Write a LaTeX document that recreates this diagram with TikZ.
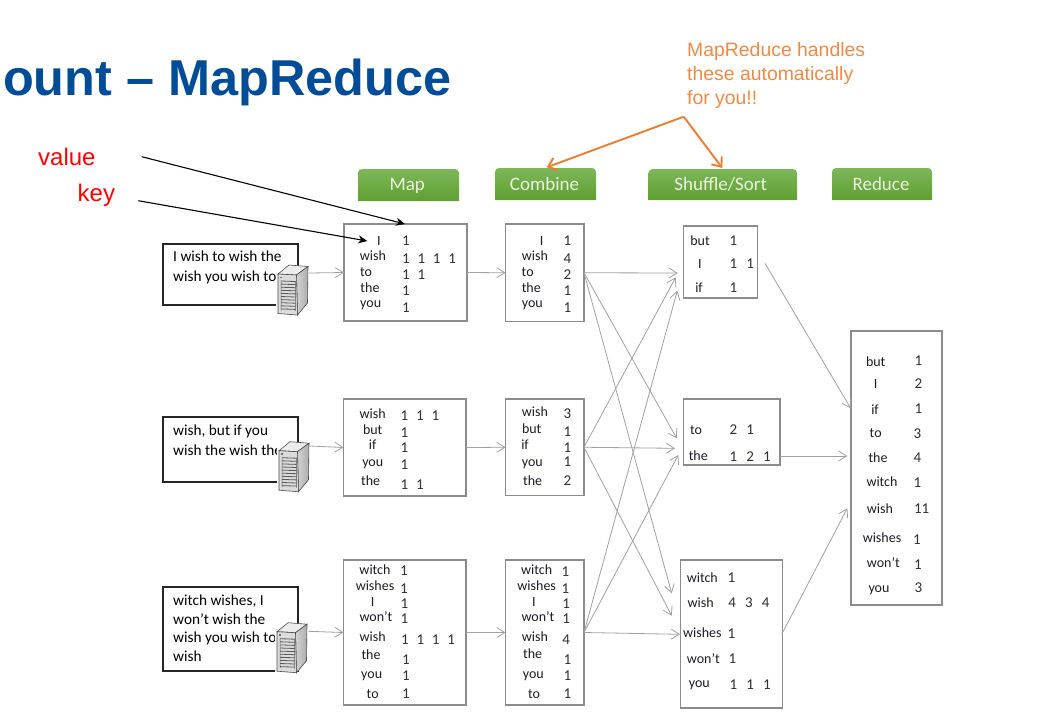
\documentclass[tikz,border=0pt]{standalone}
\usepackage{fontspec}
\setmainfont{Carlito}
\newfontfamily\arialfont{Liberation Sans}
\usetikzlibrary{arrows.meta}
\definecolor{titleblue}{HTML}{004C97}
\definecolor{noteorange}{HTML}{ED7D31}
\definecolor{boxgray}{HTML}{8C8C8C}
\definecolor{flowgray}{HTML}{A0A0A0}
\definecolor{inkdark}{HTML}{1C1C28}
\definecolor{numdark}{HTML}{2E2E3A}
\definecolor{hdrtop}{HTML}{7DB75A}
\definecolor{hdrbot}{HTML}{5F9F30}
\definecolor{hdrink}{HTML}{EAF4E0}
\newcommand{\gapa}{\hspace{7.8pt}}
\newcommand{\gapb}{\hspace{9.1pt}}
\newcommand{\srvpic}[2]{%
  \begin{scope}[shift={(#1,#2)}]
    \fill[white] (-2,1) rectangle (20,52);
    \fill[gray!15,draw=black!70,line width=.6] (0,9) -- (11,0) -- (30,1.5) -- (18.5,10) -- cycle;
    \shade[left color=gray!35,right color=gray!65,draw=black!70,line width=.6] (18.5,10) -- (30,1.5) -- (29.5,38) -- (19.5,50) -- cycle;
    \fill[gray!28,draw=black!70,line width=.6] (0,9) -- (18.5,10) -- (19.5,50) -- (0,48.5) -- cycle;
    \fill[black!55] (2,11.5) rectangle (4,13);
    \foreach \s in {0,...,9}
      \draw[black!65,line width=.8] (3,16+\s*3.1) -- (17.5,16.5+\s*3.1);
    \draw[black!65,line width=.5] (3,15.5) -- (3,45.5) (17.5,16) -- (17.7,46);
  \end{scope}}
\tikzset{
  tbox/.style={draw=boxgray,line width=1.3,fill=white,inner sep=0,outer sep=0},
  inbox/.style={draw=black!85,line width=1.3,fill=white,inner sep=0,outer sep=0,anchor=north west},
  intext/.style={anchor=base west,inner sep=0,text=black,font=\fontsize{15.3}{18}\selectfont},
  wrdtext/.style={anchor=base,inner sep=0,text=inkdark,font=\fontsize{14}{16}\selectfont},
  numtext/.style={anchor=base west,inner sep=0,xshift=-3.8pt,text=numdark,font=\fontsize{15}{16}\selectfont},
  hdr/.style={anchor=base,inner sep=0,text=hdrink,font=\fontsize{19}{22}\selectfont},
  flow/.style={draw=flowgray,line width=.8,-{Straight Barb[length=8pt,width=10pt]}},
  pointer/.style={draw=black,line width=1.1,-{Stealth[length=9pt,width=8pt]}},
  note/.style={draw=noteorange,line width=1.9,-{Straight Barb[length=8pt,width=13pt]}},
  notetext/.style={anchor=base west,inner sep=0,text=noteorange!90!white,font=\arialfont\fontsize{19.4}{24}\selectfont},
  redtext/.style={anchor=base west,inner sep=0,text=red,font=\arialfont\fontsize{24}{28}\selectfont}
}
\begin{document}
\begin{tikzpicture}[x=1pt,y=-1pt]
  \useasboundingbox (0,0) rectangle (1054,718);

  \node[anchor=base west,inner sep=0,text=titleblue,font=\arialfont\bfseries\fontsize{50.4}{56}\selectfont] (title) at (3,95.7) {ount – MapReduce};
  \node[notetext] (notea) at (687,56) {MapReduce handles};
  \node[notetext] (noteb) at (687,80) {these automatically};
  \node[notetext] (notec) at (687,104) {for you!!};
  \node[redtext] (lblvalue) at (38,165) {value};
  \node[redtext] (lblkey) at (77.5,201.7) {key};

  \foreach \n/\xa/\xb/\ya/\yb/\lab/\lx in {hmap/358/459/169/201/Map/407.3, hcomb/495/596/168/200/Combine/544.5, hsort/648.5/797/169/200/Shuffle\slash Sort/720.7, hred/832/932/168/200/Reduce/881} {
    \shade[top color=hdrtop,bottom color=hdrbot] (\xa,\yb) [rounded corners=4pt] -- (\xa,\ya) -- (\xb,\ya) [sharp corners] -- (\xb,\yb) -- cycle;
    \node[hdr] (\n) at (\lx,190) {\lab};
  }

  \foreach \n/\xa/\ya/\xb/\yb in {map1/344/224/467/321, map2/343.5/399/466/496, map3/343.5/560/466/705, comb1/505.5/224/584/321.5, comb2/505.5/399/584/495.5, comb3/505.5/560/584/705, sort1/683.5/226/757.5/298, sort2/683.5/399/780/465, sort3/680.5/560/782.5/708, red1/851/331/942/605}
    \node[tbox,minimum width={(\xb-\xa)*1pt},minimum height={(\yb-\ya)*1pt}] (\n) at ({(\xa+\xb)/2},{(\ya+\yb)/2}) {};

  \foreach \wrd/\wx/\wy/\cnt/\cx/\cy [count=\i] in {
    I/379/245/1/405.7/245, wish/373/260/1\gapa1\gapa1\gapa1/405.7/263.3, to/366/276/1\gapa1/405.7/279.3, the/370/292/1/405.7/295, you/370.7/307.7/1/405.7/312,
    wish/372.7/418.3/1\gapa1\gapa1/404.3/420, but/372.7/434.3/1/404.3/437, if/372.7/449/1/404.3/452.3, you/372.7/466/1/404.3/469.3, the/370.7/485/1\gapa1/404.3/489,
    witch/375/574.3/1/403.7/575.7, wishes/375/590.3/1/403.7/593, I/372.7/606/1/404.3/608, won’t/376/621.7/1/404.3/623, wish/372.7/641.3/1\gapa1\gapa1\gapa1/404.7/644.3, the/371/659.3/1/405.7/664, you/371.7/678.7/1/405.7/680, to/372.7/698.3/1/405.7/698.3,
    I/541.7/245/1/567.3/245, wish/535/260/4/567.3/263.3, to/527.7/276/2/567.3/279.3, the/531.3/292/1/567.3/295, you/532.3/307.7/1/567.3/312,
    wish/535/416/3/567.3/418.3, but/531.7/433.3/1/567.3/436, if/525/449/1/567.3/452.7, you/532.3/466.7/1/567.3/466.7, the/532.7/485/2/567.3/485,
    witch/536.7/574/1/565.3/576, wishes/536.7/590/1/565.3/593.3, I/534/606/1/566/608.3, won’t/538/621.7/1/566/623.3, wish/535/641.7/4/566/644, the/532.7/658.7/1/567.3/664, you/533.3/678.3/1/567.3/680, to/534/698.3/1/567.3/698.3,
    but/700/245/1/733.3/245, I/700/268.3/1\gapb1/733.3/268.3, if/699/292.3/1/733.3/292.3,
    to/696/434.3/2\gapb1/733.3/434.3, the/698.3/460/1\gapb2\gapb1/733.3/461,
    witch/702.3/582/1/731.3/582.7, wish/700.7/607.7/4\gapb3\gapb4/732/607.7, wishes/702.3/637.7/1/731.3/638.7, won’t/703.3/663.3/1/732.3/663.3, you/699.3/687.3/1\gapb1\gapb1/733.3/689,
    but/875.7/366/1/918.3/365, I/875.7/388.7/2/918.3/388.3, if/875/414/1/918.3/413.3, to/875.7/437.7/3/917.3/438.3, the/878/462.3/4/917.3/462.7, witch/882/486.7/1/917.3/487.3, wish/880/513.3/11/917.7/513.3, wishes/882/542.3/1/916.7/544, won’t/883.3/567.3/1/917.7/569.3, you/879/592.7/3/918.3/592.7} {
    \node[wrdtext] (w\i) at (\wx,\wy) {\wrd};
    \node[numtext] (c\i) at (\cx,\cy) {\cnt};
  }

  \node[inbox,minimum width=135pt,minimum height=61pt] (ina) at (163,244) {};
  \node[inbox,minimum width=135pt,minimum height=65pt] (inb) at (163,417) {};
  \node[inbox,minimum width=135pt,minimum height=84pt] (inc) at (163,587) {};
  \foreach \t/\y [count=\i] in {I wish to wish the/261, wish you wish to/281, {wish, but if you}/435, wish the wish the/455, {witch wishes, I}/605, won’t wish the/624.3, wish you wish to/642.3, wish/661.7}
    \node[intext] (txt\i) at (173,\y) {\t};

  \srvpic{278}{265}
  \srvpic{279}{441.7}
  \srvpic{277}{622.7}

  \foreach \n/\x/\y in {srva/308.5/273, srvb/310/446, srvc/308.5/631.3, ta/677.7/273, tb/676.7/438.3, tc/671.7/593.3, td/675.7/277.3, te/675/448.3, tf/671.7/615.7, tg/677.3/290.7, th/678.3/455, ti/680/634.3, sa/765/263.3, sb/780/456, sc/781.7/634.3, ra/850.7/408.3, rb/847.3/456, rc/847.3/508.3, lv/141.7/156.7, lk/138.3/200.7, tv/405/224, tk/367.3/241, apx/683.7/116.7, tnc/546.7/167.3, tns/722.3/168}
    \coordinate (\n) at (\x,\y);

  \foreach \a/\b in {srva/map1.west, srvb/map2.west, srvc/map3.west, map1.east/comb1.west, map2.east/comb2.west, map3.east/comb3.west, comb1.east/ta, comb1.east/tb, comb1.east/tc, comb2.east/td, comb2.east/te, comb2.east/tf, comb3.east/tg, comb3.east/th, comb3.east/ti, sa/ra, sb/rb, sc/rc}
    \draw[flow] (\a) -- (\b);

  \draw[pointer] (lv) -- (tv);
  \draw[pointer] (lk) -- (tk);
  \draw[note] (apx) -- (tnc);
  \draw[note] (apx) -- (tns);
\end{tikzpicture}
\end{document}
